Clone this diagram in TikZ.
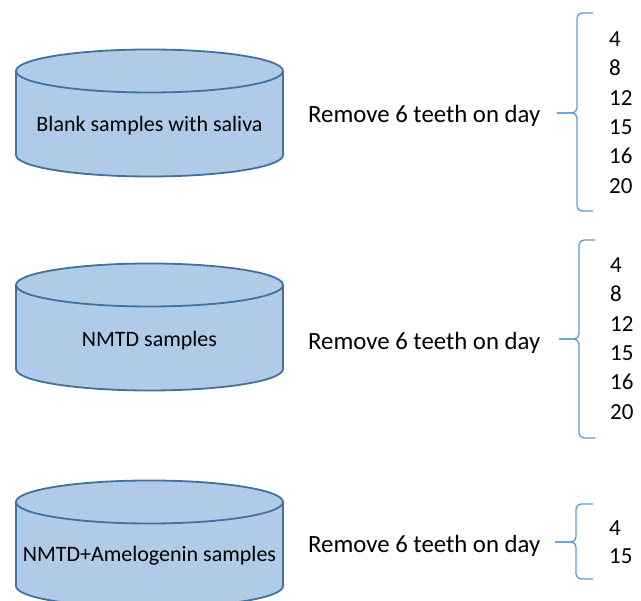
\documentclass[tikz,border=0pt]{standalone}
\usepackage{fontspec}
\setmainfont{Carlito}
\definecolor{cylfill}{RGB}{175,203,232}
\definecolor{cyldraw}{RGB}{65,113,156}
\definecolor{bracecol}{RGB}{91,155,213}
\begin{document}
\begin{tikzpicture}[x=1pt,y=1pt,
  big/.style={font=\fontsize{24.8}{28}\selectfont, inner sep=0pt, anchor=base west},
  cyltext/.style={font=\fontsize{22}{26}\selectfont, inner sep=0pt, anchor=base},
  num/.style={font=\fontsize{23}{27}\selectfont, inner sep=0pt, anchor=base west},
  bracestyle/.style={draw=bracecol, line width=1.3pt, rounded corners=5pt},
  cyl/.pic={
    \fill[cylfill] (-133.5,0) -- (-133.5,-84) arc[start angle=180,end angle=360,x radius=133.5pt,y radius=21.5pt] -- (133.5,0) -- cycle;
    \draw[cyldraw, line width=1.8pt, fill=cylfill] (0,0) ellipse[x radius=133.5pt, y radius=21.5pt];
    \draw[cyldraw, line width=1.8pt] (-133.5,0) -- (-133.5,-84) arc[start angle=180,end angle=360,x radius=133.5pt,y radius=21.5pt] -- (133.5,0);
  }]
\useasboundingbox (0,0) rectangle (641,601);
% cylinders
\pic at (149.5,530) {cyl};
\pic at (149.5,316) {cyl};
\pic at (149.5,99) {cyl};
\node[cyltext] (c1) at (149.5,469.3) {Blank samples with saliva};
\node[cyltext] (c2) at (149.5,254.3) {NMTD samples};
\node[cyltext] (c3) at (149.5,39.3) {NMTD+Amelogenin samples};
% remove texts
\node[big] (r1) at (308,478.3) {Remove 6 teeth on day};
\node[big] (r2) at (308,251.3) {Remove 6 teeth on day};
\node[big] (r3) at (308,48.3) {Remove 6 teeth on day};
% braces
\coordinate (b1t) at (593,588); \coordinate (b1b) at (593,390); \coordinate (b1m) at (557,488);
\coordinate (b2t) at (595,361); \coordinate (b2b) at (595,163); \coordinate (b2m) at (559,262);
\coordinate (b3t) at (593,97);  \coordinate (b3b) at (593,22);  \coordinate (b3m) at (555,59);
\draw[bracestyle] (b1t) -- (577,588) -- (577,488) -- (b1m);
\draw[bracestyle] (b1b) -- (577,390) -- (577,488) -- (b1m);
\draw[bracestyle] (b2t) -- (579,361) -- (579,262) -- (b2m);
\draw[bracestyle] (b2b) -- (579,163) -- (579,262) -- (b2m);
\draw[bracestyle] (b3t) -- (576,97) -- (576,59) -- (b3m);
\draw[bracestyle] (b3b) -- (576,22) -- (576,59) -- (b3m);
% numbers
\node[num] (n11) at (609,554.3) {4};
\node[num] (n12) at (609,525) {8};
\node[num] (n13) at (609,495.7) {12};
\node[num] (n14) at (609,466.3) {15};
\node[num] (n15) at (609,437) {16};
\node[num] (n16) at (609,407.7) {20};
\node[num] (n21) at (610,328.3) {4};
\node[num] (n22) at (610,299.3) {8};
\node[num] (n23) at (610,269.3) {12};
\node[num] (n24) at (610,240.3) {15};
\node[num] (n25) at (610,211) {16};
\node[num] (n26) at (610,181) {20};
\node[num] (n31) at (609,65) {4};
\node[num] (n32) at (609,37) {15};
\end{tikzpicture}
\end{document}
